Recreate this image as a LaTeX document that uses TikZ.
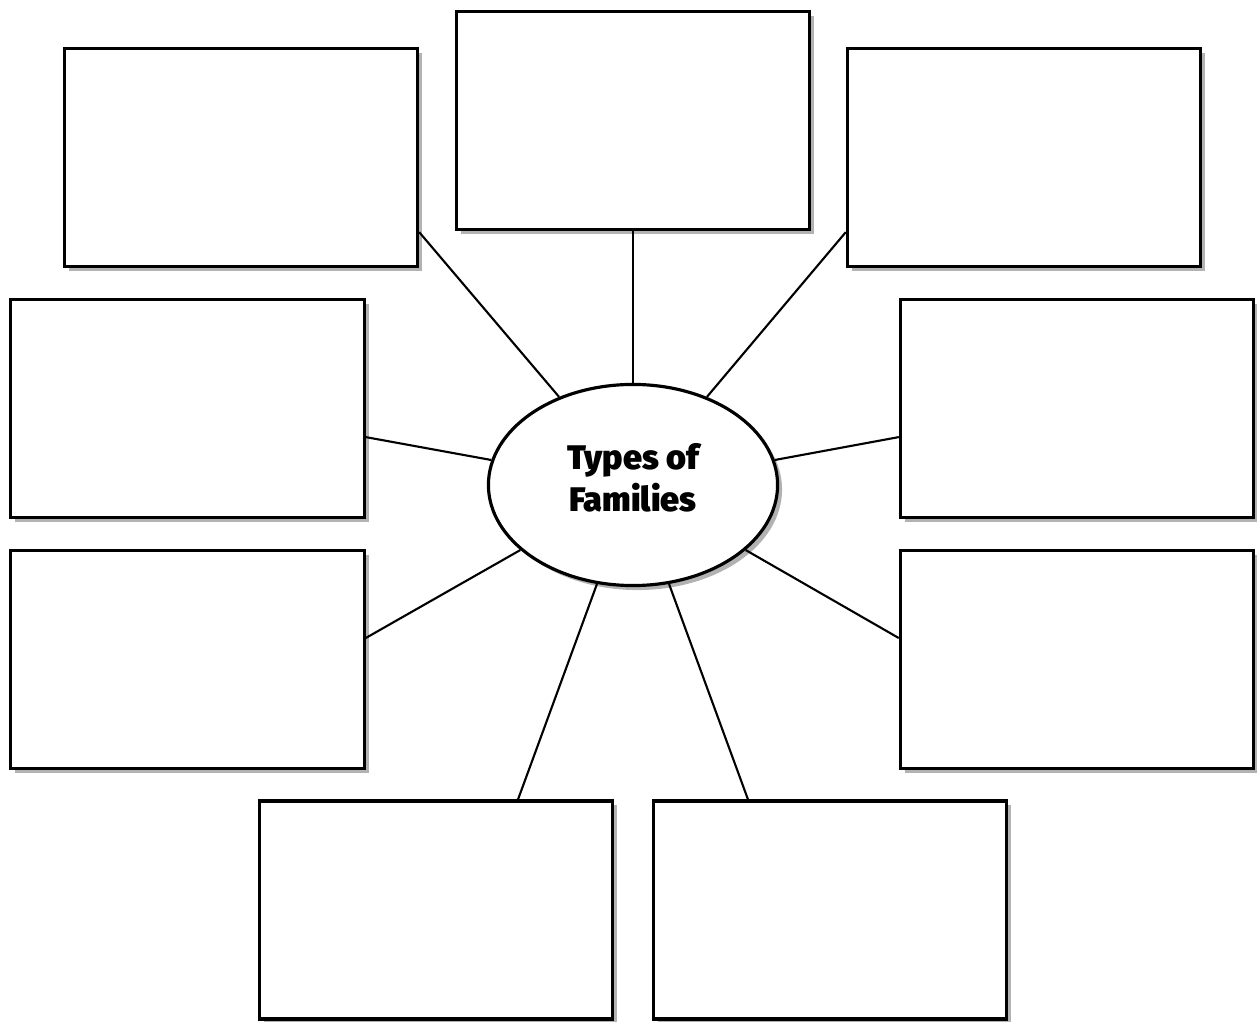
\documentclass[tikz,border=0pt]{standalone}
\usepackage{fontspec}
\newfontfamily\headfont{Fira Sans Black}
\usetikzlibrary{shapes.geometric,shadows}

\tikzset{
  shade off/.style={drop shadow={shadow xshift=0.045cm,shadow yshift=-0.045cm,fill=black!30,opacity=1}},
  blank/.style={draw,line width=0.9pt,fill=white,shade off,inner sep=0pt,
    minimum width=3.53cm,minimum height=2.18cm},
  hub/.style={ellipse,draw,line width=0.9pt,fill=white,shade off,inner sep=0pt,
    minimum width=2.89cm,minimum height=2.01cm},
  hubtext/.style={align=center,inner sep=0pt,font=\headfont\fontsize{9.7}{12}\selectfont},
  spoke/.style={line width=0.6pt}
}

\begin{document}
\begin{tikzpicture}[x=0.01cm,y=-0.01cm]
  \useasboundingbox (0,0) rectangle (1257,1022);
  % centre
  \node[hub] (fam) at (633,485) {};
  \node[hubtext] (famtxt) at ([yshift=0.07cm]fam.center) {Types of\\Families};
  % boxes round it
  \node[blank] (tl) at (241,157.5) {};
  \node[blank] (tc) at (633,120.5) {};
  \node[blank] (tr) at (1024,157.5) {};
  \node[blank] (ml) at (187.5,408.5) {};
  \node[blank] (mr) at (1077,408.5) {};
  \node[blank] (ll) at (187.5,659.5) {};
  \node[blank] (lr) at (1077,659.5) {};
  \node[blank] (bl) at (436,910) {};
  \node[blank] (br) at (830,910) {};
  % spokes
  \draw[spoke] ([yshift=0.36cm]tl.south east) -- (fam.130);
  \draw[spoke] (tc.south) -- (fam.90);
  \draw[spoke] ([yshift=0.36cm]tr.south west) -- (fam.50);
  \draw[spoke] ([yshift=0.82cm]ml.south east) -- (fam.170);
  \draw[spoke] ([yshift=0.82cm]mr.south west) -- (fam.10);
  \draw[spoke] ([yshift=1.32cm]ll.south east) -- (fam.210);
  \draw[spoke] ([yshift=1.32cm]lr.south west) -- (fam.330);
  \draw[spoke] ([xshift=0.82cm]bl.north) -- (fam.250);
  \draw[spoke] ([xshift=-0.82cm]br.north) -- (fam.290);
\end{tikzpicture}
\end{document}
